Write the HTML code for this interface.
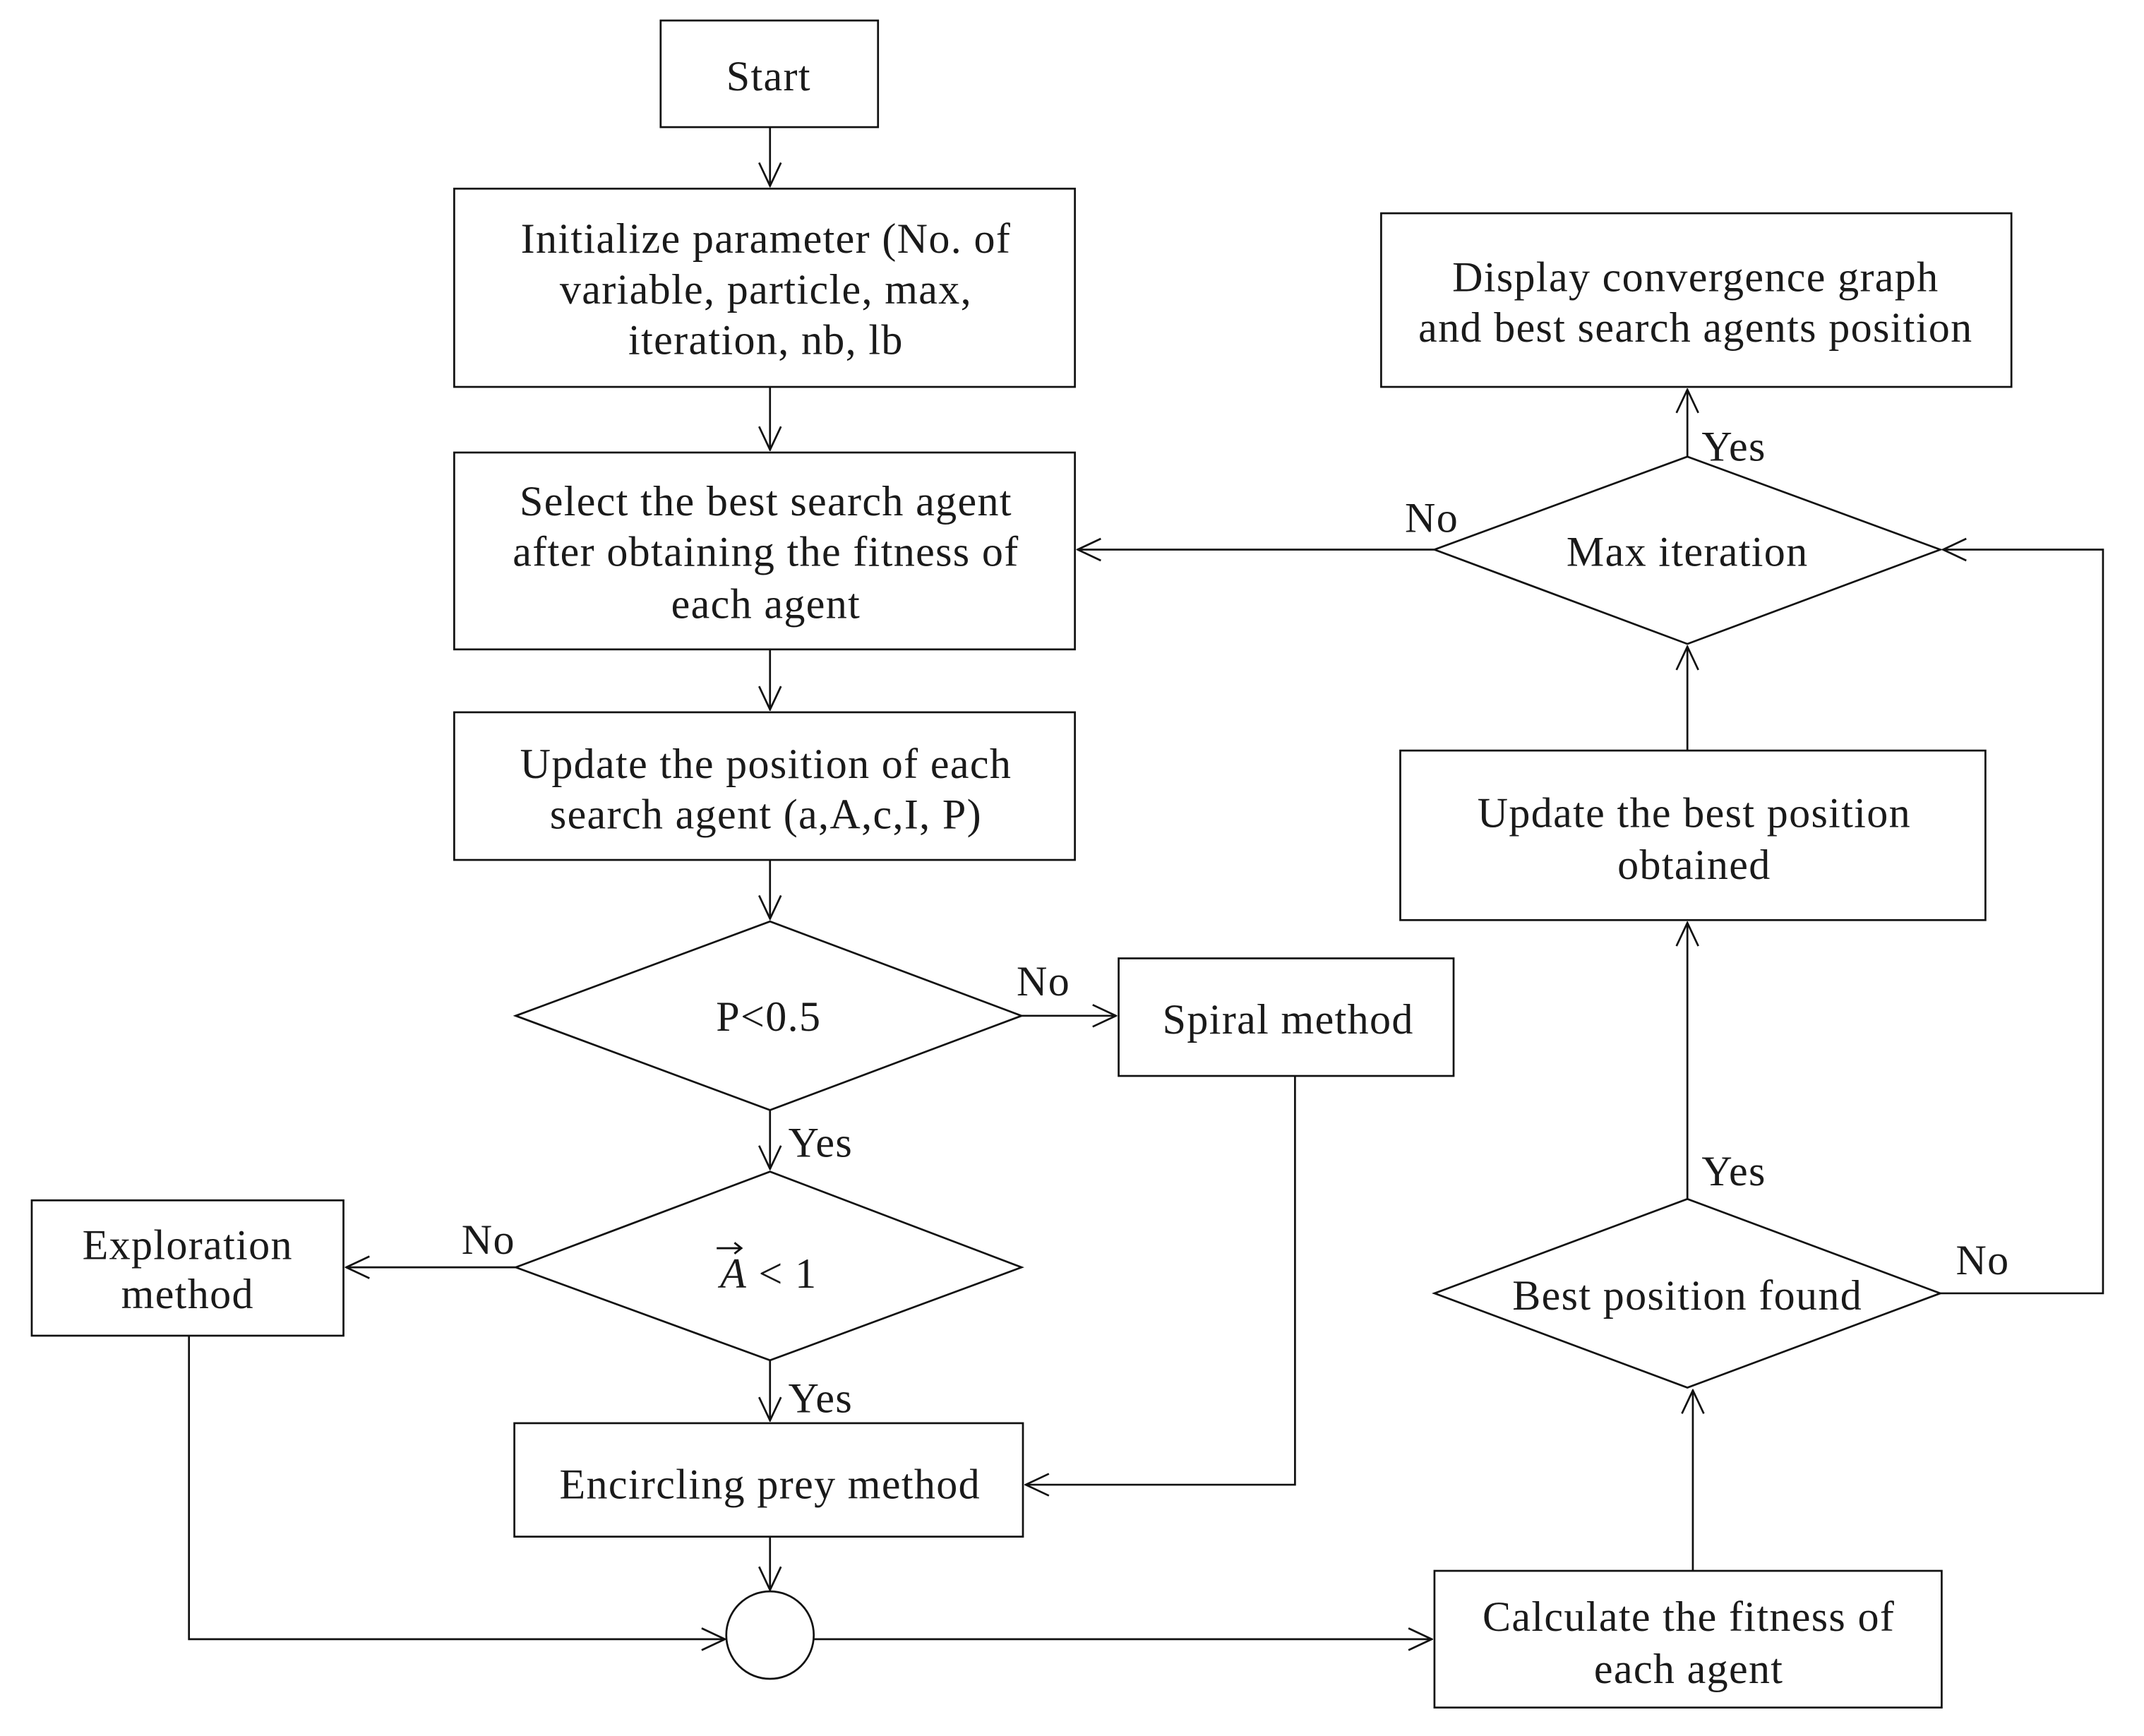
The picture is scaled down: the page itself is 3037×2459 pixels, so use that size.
<!DOCTYPE html>
<html><head><meta charset="utf-8"><style>
html,body{margin:0;padding:0;background:#fff}
svg{display:block}
text{font-family:"Liberation Serif",serif;font-size:31px;letter-spacing:0.7px;fill:#1a1a1a;text-anchor:middle}
</style></head><body>
<svg width="3037" height="2459" viewBox="0 0 1553 1266" preserveAspectRatio="none">
<defs>
<marker id="a" viewBox="0 0 20 20" refX="19" refY="10" markerWidth="20" markerHeight="20" markerUnits="userSpaceOnUse" orient="auto">
<path d="M2,2 L19,10 L2,18" fill="none" stroke="#111" stroke-width="1.4"/>
</marker>
</defs>
<g transform="matrix(0.9903,0,0,0.997,0.22,0)">
<g fill="#fff" stroke="#111" stroke-width="1.4">
<rect x="483" y="15" width="159" height="78"/>
<rect x="332" y="138" width="454" height="145"/>
<rect x="332" y="331" width="454" height="144"/>
<rect x="332" y="521" width="454" height="108"/>
<polygon points="377,743 563,674 747,743 563,812"/>
<rect x="818" y="701" width="245" height="86"/>
<polygon points="377,927 563,857 747,927 563,995"/>
<rect x="23" y="878" width="228" height="99"/>
<rect x="376" y="1041" width="372" height="83"/>
<circle cx="563" cy="1196" r="32"/>
<rect x="1049" y="1149" width="371" height="100"/>
<polygon points="1049,946 1234,877 1419,946 1234,1015"/>
<rect x="1024" y="549" width="428" height="124"/>
<polygon points="1049,402 1234,334 1419,402 1234,471"/>
<rect x="1010" y="156" width="461" height="127"/>
</g>
<g fill="none" stroke="#111" stroke-width="1.4" marker-end="url(#a)">
<path d="M563,93 V136"/>
<path d="M563,283 V329"/>
<path d="M563,475 V519"/>
<path d="M563,629 V672"/>
<path d="M563,812 V855"/>
<path d="M747,743 H816"/>
<path d="M377,927 H253"/>
<path d="M563,995 V1039"/>
<path d="M947,787 V1086 H750"/>
<path d="M563,1124 V1163"/>
<path d="M138,977 V1199 H530"/>
<path d="M595,1199 H1047"/>
<path d="M1238,1149 V1017"/>
<path d="M1234,877 V675"/>
<path d="M1419,946 H1538 V402 H1421"/>
<path d="M1234,549 V473"/>
<path d="M1234,334 V285"/>
<path d="M1049,402 H788"/>
</g>
<text x="562" y="66">Start</text>
<text x="560" y="185">Initialize parameter (No. of</text>
<text x="560" y="222">variable, particle, max,</text>
<text x="560" y="259">iteration, nb, lb</text>
<text x="560" y="377">Select the best search agent</text>
<text x="560" y="414">after obtaining the fitness of</text>
<text x="560" y="452">each agent</text>
<text x="560" y="569">Update the position of each</text>
<text x="560" y="606">search agent (a,A,c,I, P)</text>
<text x="562" y="754">P&lt;0.5</text>
<text x="942" y="756">Spiral method</text>
<text x="562" y="942" style="font-style:italic">A<tspan style="font-style:normal"> &lt; 1</tspan></text>
<path d="M524,913 H542 M537,909 L542,913 L537,917" fill="none" stroke="#111" stroke-width="1.5"/>
<text x="137" y="921">Exploration</text>
<text x="137" y="957">method</text>
<text x="563" y="1096">Encircling prey method</text>
<text x="1235" y="1193">Calculate the fitness of</text>
<text x="1235" y="1231">each agent</text>
<text x="1234" y="958">Best position found</text>
<text x="1239" y="605">Update the best position</text>
<text x="1239" y="643">obtained</text>
<text x="1234" y="414">Max iteration</text>
<text x="1240" y="213">Display convergence graph</text>
<text x="1240" y="250">and best search agents position</text>
<text x="600" y="846">Yes</text>
<text x="763" y="728">No</text>
<text x="357" y="917">No</text>
<text x="600" y="1033">Yes</text>
<text x="1268" y="867">Yes</text>
<text x="1450" y="932">No</text>
<text x="1268" y="337">Yes</text>
<text x="1047" y="389">No</text>
</g>
</svg>
</body></html>
